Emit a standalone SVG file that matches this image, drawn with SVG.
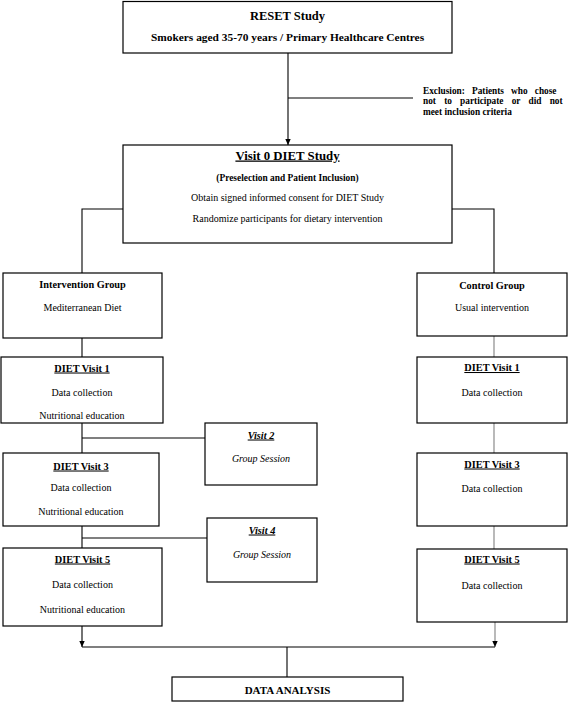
<svg xmlns="http://www.w3.org/2000/svg" width="568" height="702" viewBox="0 0 568 702">
<style>
text{font-family:"Liberation Serif","Times New Roman",serif;fill:#000;text-anchor:middle}
.b{font-weight:bold}
.u{text-decoration:underline}
.i{font-style:italic}
.t{font-size:10px}
.tb{font-size:10.3px;font-weight:bold}
.box{fill:#fff;stroke:#000;stroke-width:1.2}
.ln{fill:none;stroke:#000;stroke-width:1.1}
.gr{fill:none;stroke:#808080;stroke-width:1.1}
.ex{font-size:9.3px;font-weight:bold;text-anchor:start}
</style>
<defs>
<marker id="arr" markerUnits="userSpaceOnUse" markerWidth="6" markerHeight="6" refX="6" refY="3" orient="auto">
<path d="M0,0.3 L6,3 L0,5.7 z" fill="#000"/>
</marker>
</defs>
<g id="connectors">
<path class="ln" d="M288,53 V145" marker-end="url(#arr)"/>
<path class="ln" d="M288,98 H413"/>
<path class="ln" d="M123,209 H82 V273"/>
<path class="ln" d="M452,209 H494 V273"/>
<path class="ln" d="M82,338 V357"/>
<path class="gr" d="M494,336 V357"/>
<path class="ln" d="M82,423 V453"/>
<path class="ln" d="M82,438 H205"/>
<path class="ln" d="M82,526 V548"/>
<path class="ln" d="M82,538 H207"/>
<path class="gr" d="M494,423 V453"/>
<path class="gr" d="M494,526 V549"/>
<path class="ln" d="M82,626 V647" marker-end="url(#arr)"/>
<path class="gr" d="M495,622 V647" marker-end="url(#arr)"/>
<path class="ln" d="M82,647 H495"/>
<path class="ln" d="M287,647 V677"/>
</g>
<g id="exclusion">
<text class="ex" x="423" y="93.5" word-spacing="4.8">Exclusion: Patients who chose</text>
<text class="ex" x="423" y="104" word-spacing="5.9">not to participate or did not</text>
<text class="ex" x="423" y="114.5">meet inclusion criteria</text>
</g>
<g id="reset">
<rect class="box" x="123" y="1.5" width="329" height="51.5"/>
<text class="b" x="287.5" y="19.5" font-size="12.5">RESET Study</text>
<text class="b" x="287.5" y="40.5" font-size="11.4">Smokers aged 35-70 years / Primary Healthcare Centres</text>
</g>
<g id="visit0">
<rect class="box" x="123" y="145" width="329" height="98"/>
<text class="b u" x="287.5" y="159.5" font-size="12.8">Visit 0 DIET Study</text>
<text class="b" x="287.5" y="180.5" font-size="9.4">(Preselection and Patient Inclusion)</text>
<text class="t" x="287.5" y="200.5">Obtain signed informed consent for DIET Study</text>
<text class="t" x="287.5" y="222">Randomize participants for dietary intervention</text>
</g>
<g id="intervention">
<rect class="box" x="3" y="273" width="159" height="65"/>
<text class="tb" x="82.5" y="287.5">Intervention Group</text>
<text class="t" x="82.5" y="310.5">Mediterranean Diet</text>
</g>
<g id="control">
<rect class="box" x="417" y="273" width="150" height="63"/>
<text class="tb" x="492" y="288.5">Control Group</text>
<text class="t" x="492" y="310.5">Usual intervention</text>
</g>
<g id="iv1">
<rect class="box" x="1" y="357" width="162" height="66"/>
<text class="tb u" x="82" y="371.5">DIET Visit 1</text>
<text class="t" x="82" y="395.5">Data collection</text>
<text class="t" x="82" y="418.5">Nutritional education</text>
</g>
<g id="iv2">
<rect class="box" x="205" y="423" width="112" height="62"/>
<text class="tb u i" x="261" y="438.5">Visit 2</text>
<text class="t i" x="261" y="461.5">Group Session</text>
</g>
<g id="iv3">
<rect class="box" x="3" y="453" width="156" height="73"/>
<text class="tb u" x="81" y="469.5">DIET Visit 3</text>
<text class="t" x="81" y="490.5">Data collection</text>
<text class="t" x="81" y="514.5">Nutritional education</text>
</g>
<g id="iv4">
<rect class="box" x="207" y="518" width="110" height="64"/>
<text class="tb u i" x="262" y="533.5">Visit 4</text>
<text class="t i" x="262" y="557.5">Group Session</text>
</g>
<g id="iv5">
<rect class="box" x="3" y="548" width="159" height="78"/>
<text class="tb u" x="82.5" y="562.5">DIET Visit 5</text>
<text class="t" x="82.5" y="587.5">Data collection</text>
<text class="t" x="82.5" y="612.5">Nutritional education</text>
</g>
<g id="cv1">
<rect class="box" x="417" y="357" width="150" height="66"/>
<text class="tb u" x="492" y="371">DIET Visit 1</text>
<text class="t" x="492" y="395.5">Data collection</text>
</g>
<g id="cv3">
<rect class="box" x="417" y="453" width="150" height="73"/>
<text class="tb u" x="492" y="467.5">DIET Visit 3</text>
<text class="t" x="492" y="492">Data collection</text>
</g>
<g id="cv5">
<rect class="box" x="417" y="549" width="150" height="73"/>
<text class="tb u" x="492" y="562.5">DIET Visit 5</text>
<text class="t" x="492" y="588.5">Data collection</text>
</g>
<g id="analysis">
<rect class="box" x="172" y="677" width="231" height="24"/>
<text class="b" x="287.5" y="693.5" font-size="11">DATA ANALYSIS</text>
</g>
</svg>
